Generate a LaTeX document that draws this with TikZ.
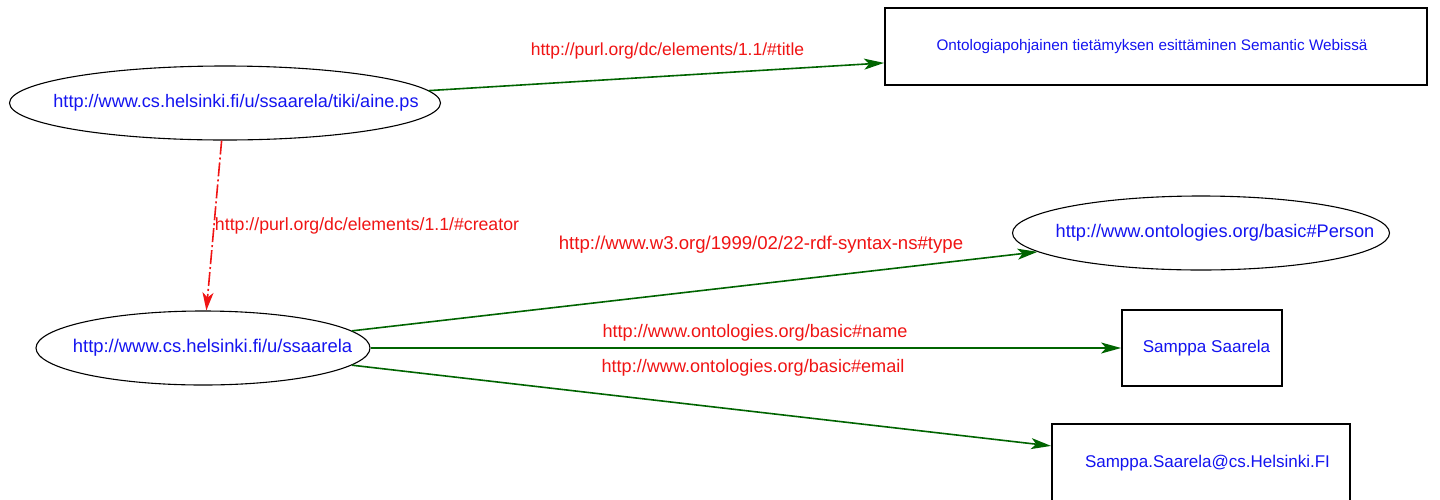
\documentclass[tikz,border=0pt]{standalone}
\usepackage{fontspec}
\setmainfont{Liberation Sans}
\usetikzlibrary{shapes.geometric,arrows.meta}
\definecolor{lblue}{RGB}{20,20,240}
\definecolor{lred}{RGB}{240,20,20}
\definecolor{lgreen}{RGB}{0,100,0}
\newcommand{\fs}[1]{\fontsize{#1}{20}\selectfont}
\newcommand{\shifted}[2]{\makebox[0pt]{\hspace*{#1}#2}}
\tikzset{
  res/.style={ellipse,draw=black,line width=1.1pt,inner sep=0pt,text=lblue},
  lit/.style={rectangle,draw=black,line width=1.8pt,inner sep=0pt,text=lblue},
  prop/.style={text=lred,inner sep=0pt},
  garrow/.style={draw=lgreen,line width=1.6pt,-{Stealth[length=20pt,width=11pt,inset=5pt]}},
  rarrow/.style={draw=lred,line width=1.6pt,dash pattern=on 14pt off 3pt on 2pt off 3pt,-{Stealth[length=18pt,width=11pt,inset=5pt]}}
}
\begin{document}
\begin{tikzpicture}[x=1pt,y=-1pt]
\clip (0,0) rectangle (1440,499);
\fill[white] (0,0) rectangle (1440,499);
\node[res,minimum width=431pt,minimum height=74pt,font=\fs{18.1}] (A) at (225,103) {\shifted{22pt}{http://www.cs.helsinki.fi/u/ssaarela/tiki/aine.ps}};
\node[lit,minimum width=542pt,minimum height=77pt,font=\fs{15.3}] (T) at (1156,46.5) {\shifted{-8pt}{Ontologiapohjainen tietämyksen esittäminen Semantic Webissä}};
\node[res,minimum width=334pt,minimum height=74pt,font=\fs{18.4}] (B) at (203,348) {\shifted{19pt}{http://www.cs.helsinki.fi/u/ssaarela}};
\node[res,minimum width=377pt,minimum height=74pt,font=\fs{18.2}] (P) at (1201,233) {\shifted{28pt}{http://www.ontologies.org/basic\#Person}};
\node[lit,minimum width=160pt,minimum height=76pt,font=\fs{17.1}] (N) at (1202,348) {\shifted{9pt}{Samppa Saarela}};
\node[lit,minimum width=298pt,minimum height=78pt,font=\fs{17.0}] (E) at (1201,463) {\shifted{13pt}{Samppa.Saarela@cs.Helsinki.FI}};
\draw[garrow] (A) -- (T);
\draw[rarrow] (A) -- (B);
\draw[garrow] (B) -- (P);
\draw[garrow] (B) -- (N);
\draw[garrow] (B) -- (E);
\node[prop,font=\fs{17.5}] (ltitle) at (667.5,51) {http://purl.org/dc/elements/1.1/\#title};
\node[prop,font=\fs{17.7}] (lcreator) at (367,226) {http://purl.org/dc/elements/1.1/\#creator};
\node[prop,font=\fs{18.6}] (ltype) at (761,245) {http://www.w3.org/1999/02/22-rdf-syntax-ns\#type};
\node[prop,font=\fs{18.1}] (lname) at (755,333) {http://www.ontologies.org/basic\#name};
\node[prop,font=\fs{18.1}] (lemail) at (753,368) {http://www.ontologies.org/basic\#email};
\end{tikzpicture}
\end{document}
